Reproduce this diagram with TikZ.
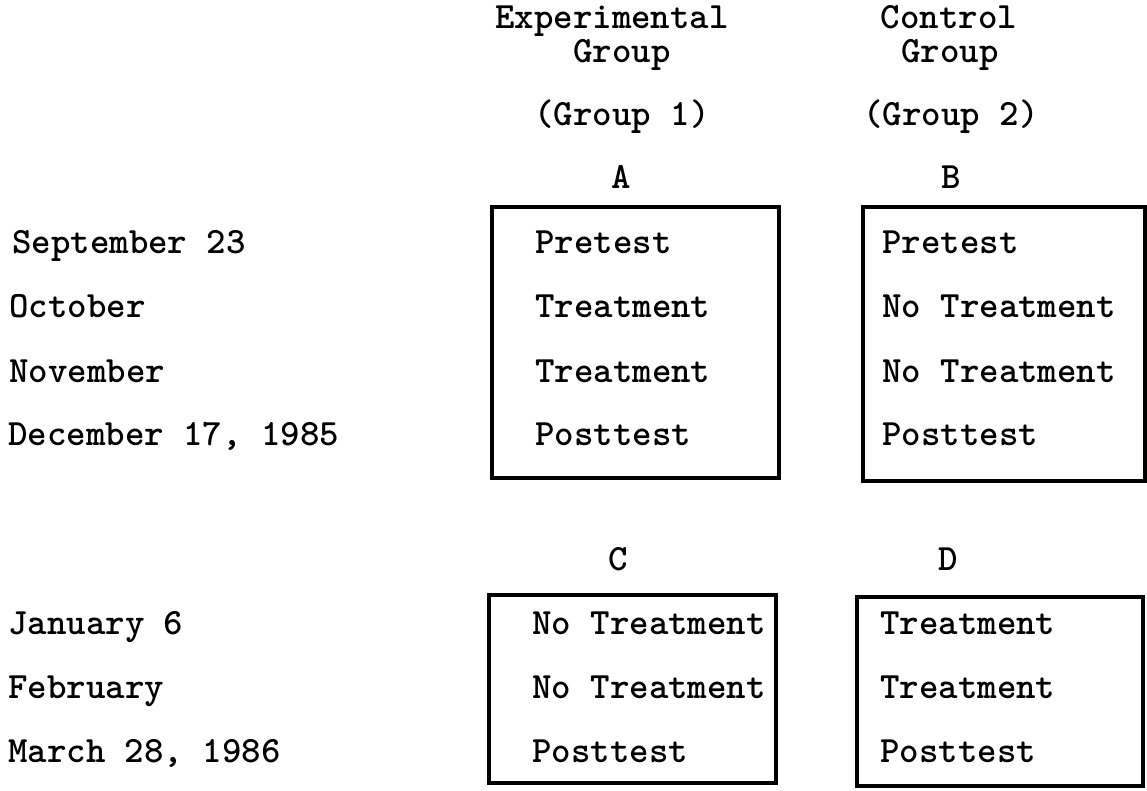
\documentclass[tikz,border=0pt]{standalone}
\usepackage{fontspec}
\newcommand{\typed}{\ttfamily\bfseries\fontsize{27.8}{33}\selectfont}
\begin{document}
\begin{tikzpicture}[x=0.75pt,y=-0.75pt,
  txt/.style={font=\typed, inner sep=0pt},
  lft/.style={txt, anchor=base west},
  ctr/.style={txt, anchor=base},
  frame/.style={draw=black, line width=2.6pt}]
\useasboundingbox (0,0) rectangle (1147,790);

% column headings
\node[ctr] (exp)  at (612,28)  {Experimental};
\node[ctr] (expg) at (622,62)  {Group};
\node[ctr] (g1)   at (622,125) {(Group 1)};
\node[ctr] (lA)   at (621,188) {A};
\node[ctr] (ctl)  at (949,28)  {Control};
\node[ctr] (ctlg) at (950,62)  {Group};
\node[ctr] (g2)   at (951,125) {(Group 2)};
\node[ctr] (lB)   at (951,188) {B};
\node[ctr] (lC)   at (618,570) {C};
\node[ctr] (lD)   at (948,570) {D};

% dates, first period
\node[lft] (d1) at (12,253) {September 23};
\node[lft] (d2) at (9,317)  {October};
\node[lft] (d3) at (9,382)  {November};
\node[lft] (d4) at (8,445)  {December 17, 1985};
% dates, second period
\node[lft] (d5) at (8,634)  {January 6};
\node[lft] (d6) at (8,698)  {February};
\node[lft] (d7) at (8,762)  {March 28, 1986};

% boxes
\draw[frame] (492,207) rectangle (779,478);
\draw[frame] (863,207) rectangle (1145,481);
\draw[frame] (489,595) rectangle (776,783);
\draw[frame] (857,597) rectangle (1143,786);

% cell A
\node[lft] (a1) at (535,253) {Pretest};
\node[lft] (a2) at (535,317) {Treatment};
\node[lft] (a3) at (535,382) {Treatment};
\node[lft] (a4) at (535,445) {Posttest};
% cell B
\node[lft] (b1) at (882,253) {Pretest};
\node[lft] (b2) at (882,317) {No Treatment};
\node[lft] (b3) at (882,382) {No Treatment};
\node[lft] (b4) at (882,445) {Posttest};
% cell C
\node[lft] (c1) at (532,634) {No Treatment};
\node[lft] (c2) at (532,698) {No Treatment};
\node[lft] (c3) at (532,762) {Posttest};
% cell D
\node[lft] (e1) at (880,634) {Treatment};
\node[lft] (e2) at (880,698) {Treatment};
\node[lft] (e3) at (880,762) {Posttest};
\end{tikzpicture}
\end{document}
